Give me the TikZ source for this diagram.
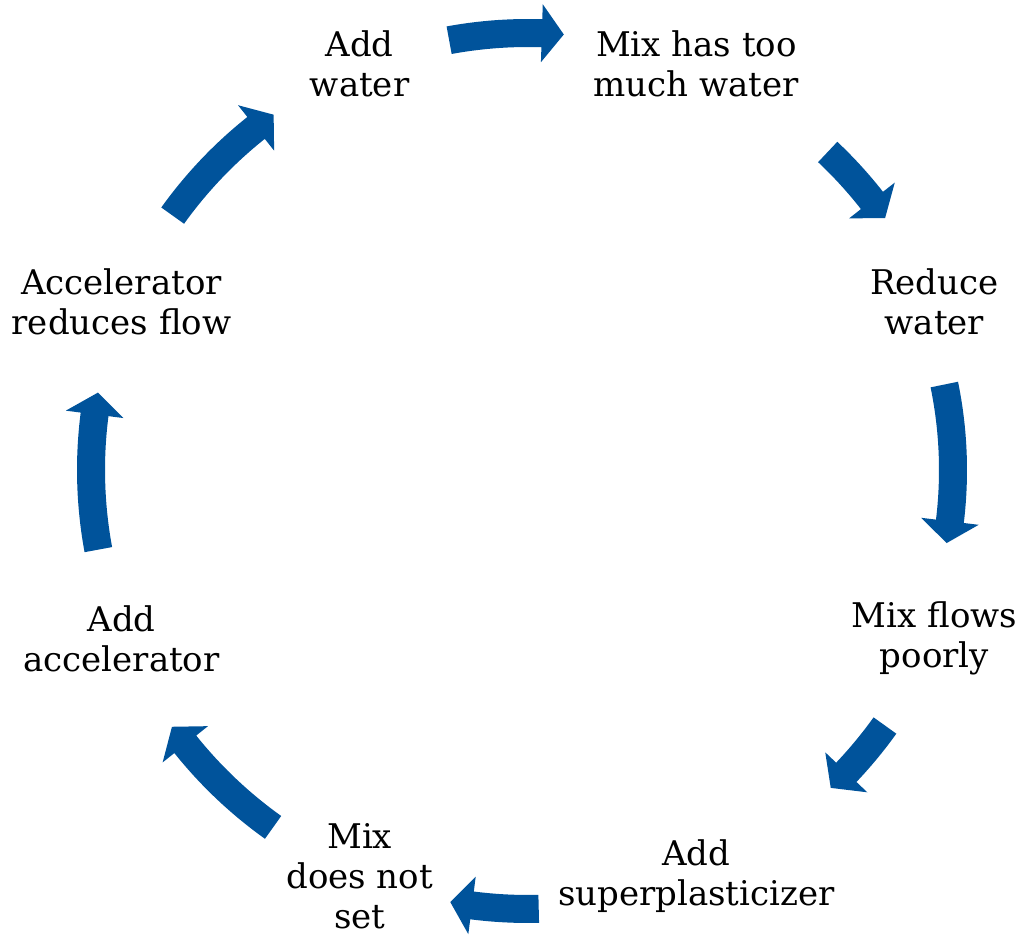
\documentclass[tikz,border=0pt]{standalone}
\usepackage{fontspec}
\setmainfont{DejaVu Serif}
\usetikzlibrary{calc}
\definecolor{arrowblue}{RGB}{0,83,155}
\newcommand\cyclearrow[3]{% tail angle, tip angle, radius
  \pgfmathsetmacro\ab{#2+22/#3*57.2958}%
  \fill[arrowblue] (#1:#3+14) arc[start angle=#1, end angle=\ab, radius=#3+14]
    -- (\ab:#3+29) -- (#2:#3) -- (\ab:#3-29) -- (\ab:#3-14)
    arc[start angle=\ab, end angle=#1, radius=#3-14] -- cycle;}
\begin{document}
\begin{tikzpicture}[x=1pt,y=1pt,
  lbl/.style={align=center, font=\fontsize{34}{40}\selectfont, text=black, inner sep=0pt}]
\useasboundingbox (0,0) rectangle (1027,937);
\coordinate (C) at (528,467);
\node[lbl] (n1) at ($(C)+(112.5:440pt)$) {Add\\water};
\node[lbl] (n2) at ($(C)+(67.5:440pt)$) {Mix has too\\much water};
\node[lbl] (n3) at ($(C)+(22.5:440pt)$) {Reduce\\water};
\node[lbl] (n4) at ($(C)+(-22.5:440pt)$) {Mix flows\\poorly};
\node[lbl] (n5) at ($(C)+(-67.5:440pt)$) {Add\\superplasticizer};
\node[lbl] (n6) at ($(C)+(-112.5:440pt)$) {Mix\\does not\\set};
\node[lbl] (n7) at ($(C)+(-157.5:440pt)$) {Add\\accelerator};
\node[lbl] (n8) at ($(C)+(157.5:440pt)$) {Accelerator\\reduces flow};
\begin{scope}[shift={(C)}]
\cyclearrow{100.4}{85.3}{437}
\cyclearrow{46.7}{35.2}{437}
\cyclearrow{11.6}{-9.9}{425}
\cyclearrow{-35.6}{-46.4}{439}
\cyclearrow{-88.6}{-100.2}{439}
\cyclearrow{-125.5}{-144.2}{439}
\cyclearrow{-169.5}{-190.2}{437}
\cyclearrow{-215.6}{-234.4}{437}
\end{scope}
\end{tikzpicture}
\end{document}
